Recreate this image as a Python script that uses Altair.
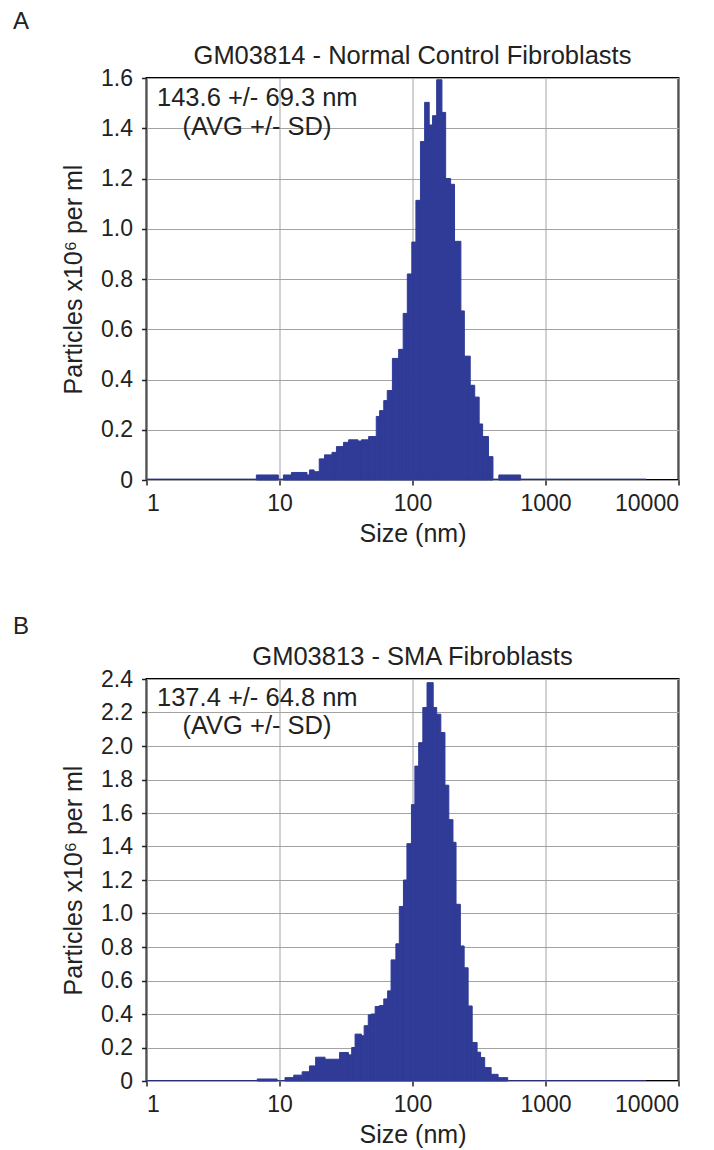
import altair as alt
import pandas as pd

FONT = "Liberation Sans"
BAR = "#2f3b96"
TXT = "#222222"

# ---------------- Panel A data (size bins in nm, particles x10^6 per ml) ----------------
a_left = [6.7, 10.7, 12.3, 16.1, 16.8, 18.2, 19.9, 21.8, 24.8, 26.8, 30.3, 33.1, 38.9, 41.3,
          46.8, 53.4, 56.6, 60.8, 64.6, 70.6, 78.7, 85.1, 91.4, 98.8, 106.1, 114.8, 123.4,
          133.5, 141.5, 152.0, 166.5, 177.5, 193.5, 207.0, 231.1, 245.3, 271.6, 293.6,
          317.1, 336.7, 372.6, 445.7]
a_right = [9.8, 12.3, 16.1, 16.8, 18.2, 19.9, 21.8, 24.8, 26.8, 30.3, 33.1, 38.9, 41.3, 46.8,
           53.4, 56.6, 60.8, 64.6, 70.6, 78.7, 85.1, 91.4, 98.8, 106.1, 114.8, 123.4, 133.5,
           141.5, 152.0, 166.5, 177.5, 193.5, 207.0, 231.1, 245.3, 271.6, 293.6, 317.1,
           336.7, 372.6, 402.7, 650.1]
a_value = [0.020, 0.020, 0.030, 0.020, 0.040, 0.033, 0.084, 0.100, 0.110, 0.133, 0.150, 0.160,
           0.155, 0.160, 0.173, 0.253, 0.276, 0.316, 0.356, 0.484, 0.520, 0.663, 0.820, 0.947,
           1.113, 1.347, 1.503, 1.413, 1.450, 1.593, 1.463, 1.200, 1.177, 0.950, 0.673, 0.493,
           0.377, 0.330, 0.223, 0.173, 0.093, 0.020]
a_base = [1.0, 5700.0, 0.006]

# ---------------- Panel B data ----------------
b_left = [6.8, 11.0, 12.8, 14.8, 16.8, 18.7, 22.0, 28.3, 33.0, 34.9, 37.0, 41.3, 43.3, 46.5,
          48.8, 52.4, 56.3, 60.8, 65.0, 69.0, 75.0, 79.6, 85.5, 90.8, 98.2, 104.2, 111.3,
          119.6, 128.6, 143.1, 152.0, 163.3, 175.4, 187.5, 201.5, 212.5, 229.0, 244.5,
          262.0, 281.0, 306.0, 325.0, 349.0, 390.0, 440.0]
b_right = [9.6, 12.8, 14.8, 16.8, 18.7, 22.0, 28.3, 33.0, 34.9, 37.0, 41.3, 43.3, 46.5, 48.8,
           52.4, 56.3, 60.8, 65.0, 69.0, 75.0, 79.6, 85.5, 90.8, 98.2, 104.2, 111.3, 119.6,
           128.6, 143.1, 152.0, 163.3, 175.4, 187.5, 201.5, 212.5, 229.0, 244.5, 262.0,
           281.0, 306.0, 325.0, 349.0, 390.0, 440.0, 520.0]
b_value = [0.012, 0.020, 0.035, 0.055, 0.090, 0.142, 0.130, 0.170, 0.156, 0.200, 0.280, 0.270,
           0.330, 0.395, 0.400, 0.445, 0.450, 0.490, 0.538, 0.723, 0.819, 1.042, 1.200, 1.417,
           1.650, 1.880, 2.020, 2.230, 2.378, 2.230, 2.190, 2.080, 1.766, 1.560, 1.425, 1.055,
           0.806, 0.676, 0.448, 0.230, 0.172, 0.140, 0.080, 0.040, 0.020]
b_base = [1.0, 5700.0, 0.006]

x_ticks = [1, 10, 100, 1000, 10000]
a_yticks = [0, 0.2, 0.4, 0.6, 0.8, 1.0, 1.2, 1.4, 1.6]
b_yticks = [0, 0.2, 0.4, 0.6, 0.8, 1.0, 1.2, 1.4, 1.6, 1.8, 2.0, 2.2, 2.4]

W, H = 532, 402


def panel(letter, title, ann1, ann2, left, right, value, base, yticks, ann_y1, ann_y2, letter_y):
    df = pd.DataFrame({"left": left, "right": right, "value": value})
    bdf = pd.DataFrame({"left": [base[0]], "right": [base[1]], "value": [base[2]]})
    xenc = alt.X("left:Q",
                 scale=alt.Scale(type="log", domain=[1, 10000], nice=False),
                 axis=alt.Axis(values=x_ticks, format="d", title="Size (nm)", labelOverlap=False,
                               grid=True, tickSize=5, labelPadding=7, titlePadding=6),
                 )
    yenc = alt.Y("value:Q",
                 scale=alt.Scale(domain=[0, yticks[-1]], nice=False, zero=True),
                 axis=alt.Axis(values=yticks, title="Particles x10⁶ per ml", labelOverlap=False,
                               labelExpr="datum.value == 0 ? '0' : format(datum.value, '.1f')",
                               grid=True, tickSize=5, labelPadding=9, titlePadding=14),
                 )
    bars = alt.Chart(df).mark_rect(color=BAR, stroke=BAR, strokeWidth=1).encode(
        x=xenc, x2="right:Q", y=yenc, y2=alt.datum(0))
    baseline = alt.Chart(bdf).mark_rect(color=BAR, opacity=0.8).encode(
        x=xenc, x2="right:Q", y=yenc, y2=alt.datum(0))

    def txt(s, x, y, size, align="left"):
        return alt.Chart(pd.DataFrame({"t": [s]})).mark_text(
            font=FONT, fontSize=size, color=TXT, align=align, baseline="alphabetic"
        ).encode(text="t:N", x=alt.value(x), y=alt.value(y))

    layers = [
        bars, baseline,
        txt(title, W / 2, -14, 25.5, "center"),
        txt(ann1, 10.5, ann_y1, 25.5),
        txt(ann2, 110.5, ann_y2, 25.5, "center"),
        txt(letter, -133.5, letter_y, 24),
    ]
    return alt.layer(*layers).properties(width=W, height=H)


pa = panel("A", "GM03814 - Normal Control Fibroblasts", "143.6 +/- 69.3 nm", "(AVG +/- SD)",
           a_left, a_right, a_value, a_base, a_yticks, 27.7, 56.5, -49)
pb = panel("B", "GM03813 - SMA Fibroblasts", "137.4 +/- 64.8 nm", "(AVG +/- SD)",
           b_left, b_right, b_value, b_base, b_yticks, 26.7, 54.5, -45)

chart = alt.vconcat(pa, pb, spacing=67).properties(
    padding={"left": 3.5, "top": 1, "right": 5, "bottom": 5}
).configure_axis(
    labelFont=FONT, titleFont=FONT, labelFontSize=23, titleFontSize=25,
    labelColor=TXT, titleColor=TXT, titleFontWeight="normal",
    gridColor="#a3a3a3", gridWidth=1, domain=False, tickColor="#222222", tickWidth=1.5,
).configure_view(stroke="black", strokeWidth=2)

chart.save("out.html", embed_options={"renderer": "svg", "actions": False})
